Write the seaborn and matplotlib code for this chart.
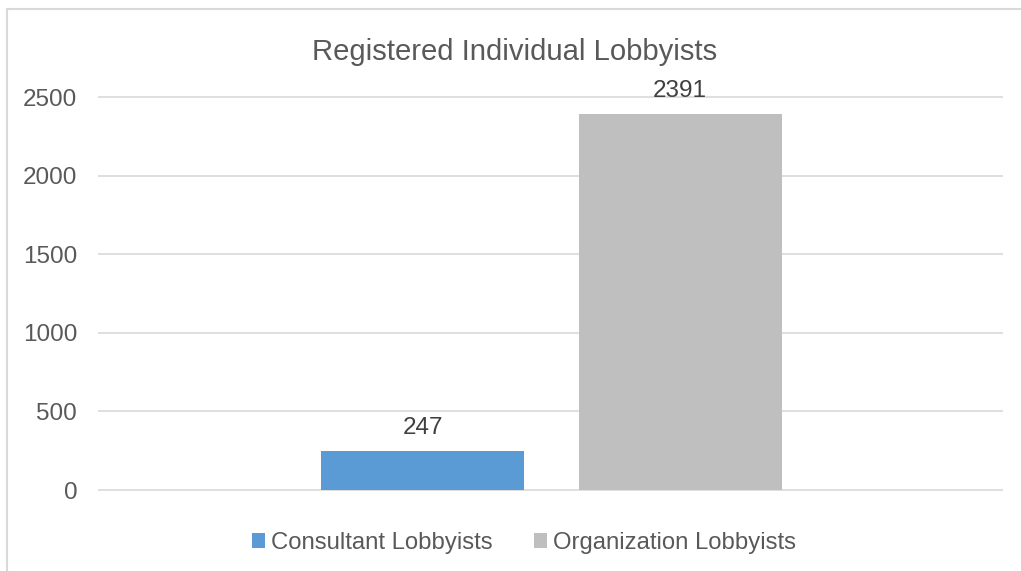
import matplotlib
matplotlib.use('Agg')
import matplotlib.pyplot as plt
from matplotlib.patches import Rectangle, Patch
import seaborn as sns
import pandas as pd

# chart data
series = ['Consultant Lobbyists', 'Organization Lobbyists']
values = [247, 2391]
colors = ['#5B9BD5', '#BFBFBF']
yticks = [0, 500, 1000, 1500, 2000, 2500]

df = pd.DataFrame({'series': series, 'value': values})

sns.set_theme(style='white')
plt.rcParams['font.family'] = ['Liberation Sans', 'DejaVu Sans']

W, H = 1021, 571
fig = plt.figure(figsize=(W / 100, H / 100), dpi=100)
ax = fig.add_axes([98 / W, 0.1308, 905 / W, 0.7268])

sns.barplot(data=df, x='series', y='value', hue='series', order=series,
            hue_order=series, palette=colors, width=0.788, legend=False,
            saturation=1, linewidth=0, ax=ax)

ax.set_ylim(-40, 2600)
ax.set_xlim(-1.260, 2.254)
ax.set_yticks(yticks)
ax.set_xticks([])
ax.set_xlabel('')
ax.set_ylabel('')
ax.grid(axis='y', color='#D9D9D9', linewidth=1.2)
ax.set_axisbelow(True)
for s in ax.spines.values():
    s.set_visible(False)
ax.tick_params(axis='y', length=0, pad=15, labelsize=17.5, labelcolor='#595959')

for c in ax.containers:
    ax.bar_label(c, padding=9, fontsize=17.5, color='#404040')

# chart title
fig.text(515 / W, 1 - 60 / H, 'Registered Individual Lobbyists', ha='center',
         va='baseline', fontsize=21.1, color='#595959')

# legend at the bottom
handles = [Patch(facecolor=col, edgecolor='none') for col in colors]
fig.legend(handles, series, loc='center', bbox_to_anchor=(524 / W, 1 - 543 / H),
           ncol=2, frameon=False, fontsize=17.2, labelcolor='#595959',
           handlelength=0.55, handleheight=0.55, handletextpad=0.25,
           columnspacing=1.7)

# outer chart border
fig.patches.append(Rectangle((7 / W, -0.1), 1.2, 1 - 9 / H + 0.1,
                             transform=fig.transFigure, fill=False,
                             edgecolor='#D9D9D9', linewidth=1.5))

fig.savefig('out.png', dpi=100)
